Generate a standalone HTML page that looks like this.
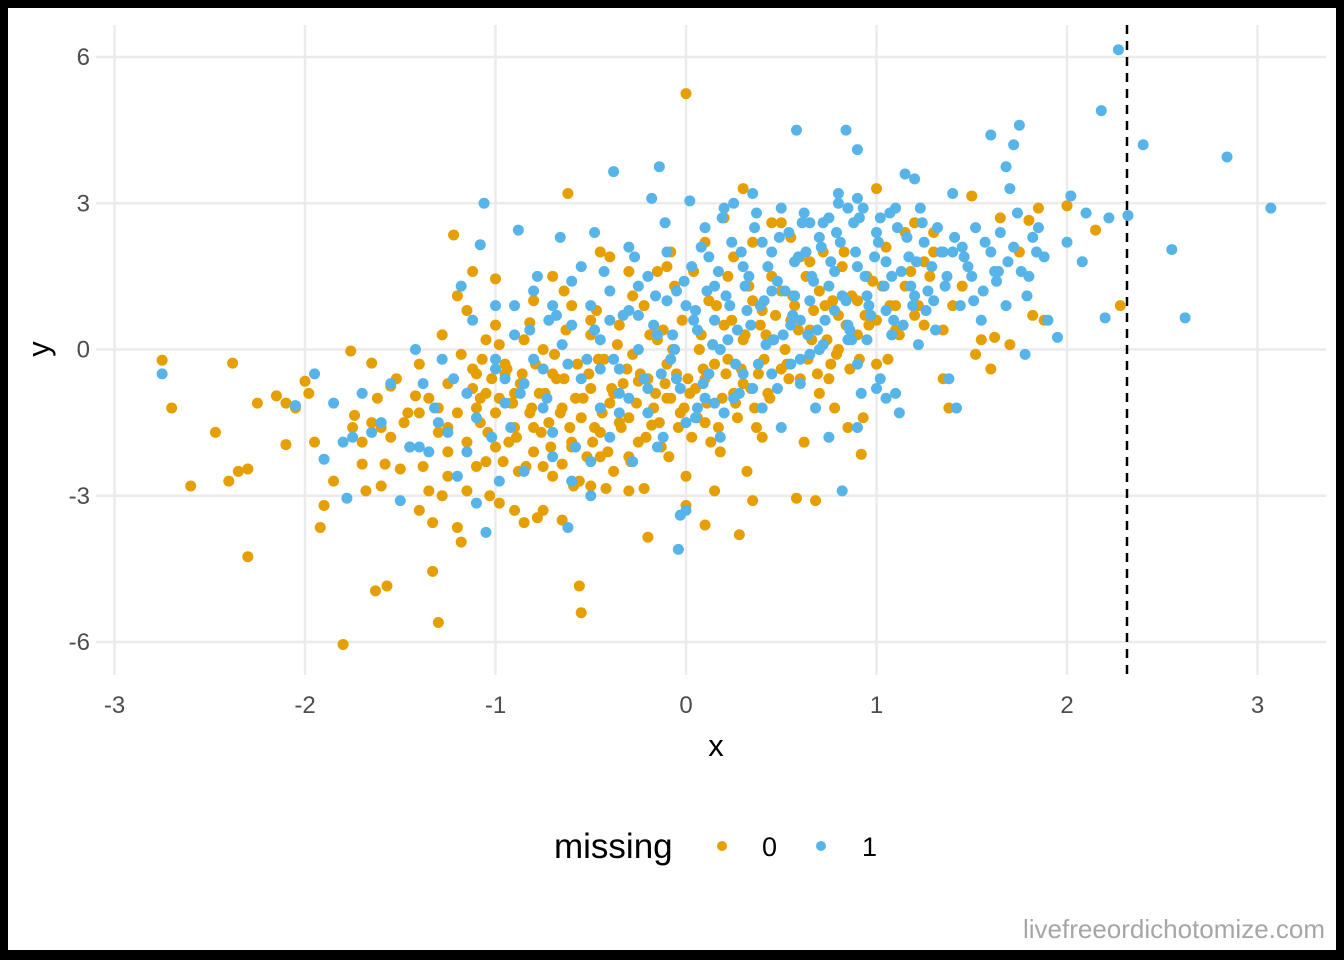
<!DOCTYPE html>
<html><head><meta charset="utf-8">
<style>
html,body{margin:0;padding:0;background:#000;}
svg{display:block;font-family:"Liberation Sans",Arial,sans-serif;}
</style></head>
<body>
<svg id="chart" width="1344" height="960" viewBox="0 0 1344 960">
<rect x="8" y="8" width="1328" height="942" fill="#fff"/>
<g id="grid"></g>
<g id="ticks"></g>
<line id="cutoff" stroke="#000" stroke-width="2.5" stroke-dasharray="9,7"/>
<g id="pts"></g>
<text x="716" y="756" font-size="31" text-anchor="middle" fill="#000">x</text>
<text x="49" y="349" font-size="31" text-anchor="middle" fill="#000" transform="rotate(-90 49 349)">y</text>
<g>
<text x="554" y="858" font-size="35" fill="#000">missing</text>
<circle cx="722" cy="846" r="5" fill="#E69F00"/>
<text x="762" y="856" font-size="27" fill="#000">0</text>
<circle cx="821" cy="846" r="5" fill="#56B4E9"/>
<text x="862" y="856" font-size="27" fill="#000">1</text>
</g>
<text x="1325" y="938" font-size="26" text-anchor="end" fill="#a6a6a6">livefreeordichotomize.com</text>
</svg>
<script>
const xTicks=[-3,-2,-1,0,1,2,3];
const yTicks=[-6,-3,0,3,6];
const xTickLabels=["-3","-2","-1","0","1","2","3"];
const yTickLabels=["-6","-3","0","3","6"];
const cutoffX=[2.315];
const orangeX=[-2.75,-2.7,-2.6,-2.47,-2.4,-2.38,-2.35,-2.3,-2.3,-2.25,-2.15,-2.1,-2.1,-2.05,-2.0,-1.98,-1.95,-1.92,-1.9,-1.85,-1.8,-1.76,-1.74,-1.7,-1.68,-1.65,-1.63,-1.6,-1.58,-1.57,-1.55,-1.5,-1.46,-1.42,-1.4,-1.38,-1.35,-1.33,-1.33,-1.3,-1.3,-1.28,-1.25,-1.25,-1.22,-1.2,-1.18,-1.15,-1.12,-1.1,-1.08,-1.05,-1.03,-1.0,-0.98,-0.95,-0.93,-0.9,-0.88,-0.85,-0.82,-0.8,-0.78,-0.75,-0.7,-0.65,-0.62,-0.6,-0.58,-0.56,-0.56,-0.55,-0.5,-0.48,-0.45,-0.42,-0.4,-0.38,-0.35,-0.3,-0.28,-0.25,-0.22,-0.2,-0.18,-0.15,-0.12,-0.1,-0.08,-0.05,-0.03,0,0,0.05,0.07,0.1,0.1,0.12,0.15,0.18,0.2,0.22,0.25,0.28,0.3,0.3,0.32,0.35,0.38,0.4,0.42,0.45,0.5,0.5,0.55,0.58,0.6,0.62,0.65,0.68,0.7,0.72,0.75,0.78,0.8,0.82,0.85,0.9,0.92,0.95,1.0,1.0,1.05,1.1,1.15,1.2,1.25,1.3,1.35,1.38,1.4,1.45,1.5,1.52,1.55,1.6,1.62,1.65,1.7,1.75,1.8,1.82,1.85,1.88,2.0,2.15,2.28,
-1.1,-1.05,-1.0,-0.95,-0.92,-0.9,-0.87,-0.85,-0.82,-0.8,-0.77,-0.75,-0.72,-0.7,-0.68,-0.65,-0.63,-0.6,-0.57,-0.55,-0.52,-0.5,-0.47,-0.45,-0.43,-0.4,-0.38,-0.35,-0.33,-0.3,-0.28,-0.25,-0.22,-0.2,-0.17,-0.15,-0.13,-0.1,-0.08,-0.06,-0.04,-0.02,0.02,0.04,0.06,0.08,0.1,0.13,0.16,0.19,0.22,0.25,0.27,0.3,0.33,0.36,0.4,0.43,0.46,0.5,0.53,0.57,0.6,0.63,0.66,0.7,0.73,0.76,0.8,0.83,0.86,0.9,0.93,0.96,1.0,1.03,1.06,1.1,1.15,1.2,1.25,1.3,1.35,-1.35,-1.3,-1.25,-1.2,-1.15,-1.12,-1.08,-1.2,-1.15,-1.05,-1.0,-0.7,-0.6,-0.45,-0.3,-0.1,0.1,0.2,0.35,0.45,0.55,0.65,-1.6,-1.45,-1.4,-1.55,-1.75,-1.7,-1.65,-0.65,-0.5,-0.3,0.0,0.15,0.35,-0.9,-0.75,-1.0,-1.25,
-1.12,-1.1,-1.07,-1.04,-1.02,-0.98,-0.96,-0.94,-0.91,-0.89,-0.86,-0.84,-0.81,-0.79,-0.76,-0.74,-0.71,-0.69,-0.66,-0.64,-0.61,-0.59,-0.54,-0.51,-0.49,-0.46,-0.44,-0.41,-0.39,-0.36,-0.34,-0.31,-0.29,-0.26,-0.24,-0.21,-0.19,-0.16,-0.14,-0.11,-0.09,-0.07,-0.01,0.01,0.03,0.09,0.11,0.14,0.17,0.21,0.24,0.26,0.29,0.31,0.34,0.37,0.39,0.41,0.44,0.47,0.52,0.54,0.56,0.59,0.64,0.67,0.69,0.74,0.77,0.79,0.84,0.87,0.91,0.94,0.98,1.07,1.12,1.18,1.22,1.28,-1.4,-1.48,-1.52,-1.62,-1.28,-1.18,-0.98,-0.8,-0.64,-0.5];
const orangeY=[-0.22,-1.2,-2.8,-1.7,-2.7,-0.28,-2.5,-2.45,-4.25,-1.1,-0.95,-1.1,-1.95,-1.2,-0.65,-0.9,-1.9,-3.65,-3.2,-2.7,-6.05,-0.03,-1.35,-2.35,-2.9,-0.28,-4.95,-2.8,-2.35,-4.85,-0.75,-2.45,-1.3,-0.95,-3.3,-2.4,-2.9,-3.55,-4.55,-5.6,-1.2,-3.0,-2.1,-1.6,2.35,-3.65,-3.95,-2.9,1.6,-2.4,-1.0,-2.3,-3.0,1.45,-3.15,-0.5,-1.9,-0.9,-2.5,-3.55,0.55,-1.6,-3.45,-3.3,-0.5,-2.35,3.2,-2.0,-1.0,-2.7,-4.85,-5.4,0.3,-1.6,-2.2,-2.85,1.9,-0.9,-1.5,-2.2,1.1,-0.65,-2.85,-3.85,-1.55,1.6,0.4,-1.0,2.0,-0.5,-1.3,5.25,-3.2,-0.8,0.0,-1.5,-3.6,1.0,-0.3,-2.1,0.5,1.5,-0.9,-3.8,3.3,0.2,-2.5,1.0,-0.5,-1.8,0.3,1.5,2.6,-0.4,0.6,-3.05,1.9,-1.9,0.4,-3.1,1.2,2.0,-0.6,-1.2,0.7,1.7,-1.6,0.3,-2.15,1.5,3.3,0.6,2.1,0.9,1.3,2.6,0.5,2.0,-0.6,-1.2,0.9,1.3,3.15,-0.1,0.2,-0.4,0.25,2.7,0.1,2.0,2.65,0.7,2.9,0.6,2.95,2.45,0.9,
-0.5,-0.9,-1.3,-0.3,-1.1,-1.6,-0.7,0.2,-1.3,-2.1,-0.9,0.0,-1.5,-2.6,-0.6,-1.2,0.4,-1.9,-0.3,-1.4,-2.2,-0.8,0.8,-1.7,-0.2,-1.1,-2.5,0.5,-0.7,-1.4,-0.1,-1.9,0.9,-0.6,-1.2,0.2,-2.0,-0.3,-1.0,1.3,-1.6,0.6,-0.9,1.6,-1.4,0.3,-0.6,-1.9,0.9,-1.0,-0.2,1.9,-1.4,-0.7,1.3,-1.2,0.8,-0.9,0.2,1.2,-0.3,0.9,-0.6,1.5,0.2,-0.9,0.9,-0.3,0.0,2.0,-0.4,1.0,-1.4,0.5,-0.3,1.3,-0.2,0.4,2.4,0.7,1.8,2.4,0.4,-1.0,-1.7,-0.7,-1.3,-1.9,-0.4,-1.5,1.1,0.8,0.2,0.5,1.5,0.9,2.0,1.6,1.7,2.2,2.7,2.2,2.6,2.3,1.8,-1.6,-2.0,-1.3,-1.8,-1.6,-1.9,-1.5,-3.5,-2.8,-2.9,-2.6,-2.9,-3.1,-3.3,-2.4,-2.0,-2.6,
-0.8,-1.2,-0.2,-1.7,-0.6,-1.0,-2.3,-0.4,-1.1,-1.8,-0.5,-2.4,-1.2,-0.3,-1.7,-0.9,-2.0,-0.1,-1.3,-0.6,-1.6,-2.8,-1.0,-0.5,-1.9,-0.2,-1.3,-2.1,-0.8,0.1,-1.6,-0.4,-2.3,-1.1,-0.5,-1.8,0.3,-0.9,-1.5,-0.7,-2.2,0.0,-1.2,-0.6,-1.8,-0.4,-1.1,0.1,-1.6,-0.5,0.6,-1.1,-0.4,0.3,-0.8,-1.6,0.5,-0.2,-1.0,0.7,0.0,-0.6,1.1,0.4,-0.2,0.8,-0.5,0.2,1.0,-0.1,0.5,1.1,-0.2,0.7,1.4,0.9,0.3,1.6,0.9,1.5,-0.3,-1.5,-0.6,-1.0,0.3,-0.1,0.1,1.0,1.2,0.6];
const blueX=[-2.75,-2.05,-1.95,-1.9,-1.85,-1.8,-1.78,-1.75,-1.7,-1.65,-1.6,-1.55,-1.5,-1.42,-1.4,-1.38,-1.35,-1.3,-1.28,-1.22,-1.2,-1.18,-1.15,-1.12,-1.1,-1.08,-1.06,-1.05,-1.02,-1.0,-0.98,-0.95,-0.9,-0.88,-0.85,-0.8,-0.78,-0.75,-0.72,-0.7,-0.66,-0.62,-0.6,-0.58,-0.55,-0.52,-0.5,-0.48,-0.45,-0.4,-0.38,-0.35,-0.3,-0.28,-0.25,-0.2,-0.18,-0.15,-0.14,-0.12,-0.1,-0.08,-0.05,-0.03,-0.04,0.0,0.02,0.04,0.06,0.1,0.12,0.15,0.18,0.2,0.22,0.25,0.28,0.3,0.32,0.35,0.38,0.4,0.45,0.48,0.5,0.55,0.57,0.58,0.6,0.62,0.65,0.68,0.7,0.72,0.75,0.78,0.8,0.82,0.84,0.85,0.88,0.9,0.92,0.95,1.0,1.02,1.05,1.08,1.1,1.12,1.15,1.18,1.2,1.22,1.25,1.3,1.35,1.38,1.4,1.42,1.45,1.5,1.55,1.6,1.62,1.65,1.68,1.7,1.72,1.75,1.78,1.8,1.85,1.9,1.95,2.0,2.02,2.08,2.1,2.18,2.2,2.22,2.27,2.32,2.4,2.55,2.62,2.84,3.07,
-0.5,-0.45,-0.4,-0.35,-0.3,-0.25,-0.2,-0.17,-0.13,-0.1,-0.07,-0.03,0.0,0.03,0.06,0.09,0.12,0.15,0.18,0.21,0.24,0.27,0.3,0.33,0.36,0.39,0.42,0.45,0.48,0.51,0.54,0.57,0.6,0.63,0.66,0.69,0.72,0.75,0.78,0.81,0.84,0.87,0.9,0.93,0.96,0.99,1.02,1.05,1.08,1.11,1.14,1.17,1.2,1.23,1.26,1.29,1.32,1.36,1.4,1.44,1.48,1.52,1.56,1.6,1.64,1.68,1.72,1.76,1.82,1.88,0.8,0.85,0.75,0.65,0.9,-0.6,-0.7,-0.8,-0.65,-0.55,-0.75,-0.85,-0.95,-1.0,-1.1,-0.9,0.0,0.1,0.2,0.4,0.6,0.5,-0.2,-0.4,-0.5,-0.3,-0.6,-0.7,-0.45,1.0,0.9,1.05,0.95,
-0.48,-0.43,-0.38,-0.33,-0.27,-0.22,-0.16,-0.11,-0.06,-0.01,0.05,0.08,0.11,0.14,0.17,0.19,0.23,0.26,0.29,0.31,0.34,0.37,0.41,0.43,0.46,0.49,0.52,0.56,0.59,0.61,0.64,0.67,0.71,0.73,0.76,0.79,0.82,0.86,0.89,0.91,0.94,0.97,1.01,1.04,1.07,1.09,1.13,1.16,1.19,1.21,1.24,1.27,1.31,1.34,1.37,1.41,1.46,1.51,1.57,1.63,1.69,1.74,1.79,1.84,-0.62,-0.68,-0.73,-0.82,-0.87,-0.92,-1.0,-1.15,-1.25,-1.32,-1.45,-0.35,-0.15,0.05,0.25,0.45,0.65,0.85,0.7,0.55,0.35,0.15,-0.05,-0.25,0.9,1.1];
const blueY=[-0.5,-1.15,-0.5,-2.25,-1.1,-1.9,-3.05,-1.8,-0.9,-1.7,-1.5,-0.7,-3.1,0.0,-2.0,-0.7,-2.1,-1.5,-0.2,-0.6,-2.6,1.3,-2.1,0.6,-3.15,2.15,3.0,-3.75,-1.8,0.9,-2.7,-0.6,0.9,2.45,-2.5,-0.2,1.5,-1.2,0.6,-1.7,2.3,-3.65,0.5,-2.0,1.7,-0.2,-3.0,2.4,-1.2,0.6,3.65,-0.4,2.1,-2.3,1.3,-0.8,3.1,0.3,3.75,-1.8,2.0,-0.2,1.2,-3.4,-4.1,-3.3,3.05,0.6,-1.2,2.5,-0.5,1.3,-1.8,2.9,0.2,3.0,-0.9,1.7,0.8,3.2,-0.3,2.2,1.2,-0.8,2.9,0.5,1.8,4.5,-0.2,2.8,1.0,-1.2,2.3,0.1,-1.8,1.6,3.2,-2.9,4.5,0.5,2.6,4.1,-0.9,1.1,2.4,-0.6,1.8,0.3,2.9,-1.3,3.6,1.3,3.5,0.1,2.2,1.0,2.0,-0.6,3.2,-1.2,2.1,1.5,0.6,4.4,1.6,2.4,3.75,3.3,4.2,4.6,-0.1,1.5,2.5,0.6,0.25,2.2,3.15,1.8,2.8,4.9,0.65,2.7,6.15,2.75,4.2,2.05,0.65,3.95,2.9,
0.9,0.2,1.2,-0.9,0.8,0.0,1.5,0.5,-0.5,1.0,0.3,-0.8,0.9,1.7,0.4,-0.7,1.9,0.6,0.0,1.1,2.2,0.4,-0.5,1.5,2.5,0.9,0.1,2.0,1.4,0.3,2.4,1.1,0.6,2.0,1.5,0.4,2.6,1.3,0.8,2.2,1.0,0.2,1.7,2.9,0.9,1.9,2.7,0.8,1.5,2.5,0.5,1.9,1.1,2.9,0.8,1.7,2.5,1.3,2.0,0.9,1.7,2.5,1.2,2.0,1.6,0.9,2.1,1.6,2.3,1.9,3.0,2.9,2.7,2.6,3.1,1.4,0.9,1.2,0.1,-0.6,-0.4,-0.7,-1.1,-0.4,-1.4,0.3,-1.5,-1.0,-1.3,-1.2,-0.7,-1.6,-1.3,-1.8,-2.3,-1.0,-2.7,-2.2,-0.4,-0.8,-0.3,-1.0,0.2,
0.4,1.6,-0.2,0.7,1.9,-0.6,1.1,2.6,0.0,1.4,0.8,2.1,1.2,0.1,1.6,2.7,0.9,-0.3,2.0,1.3,0.5,2.8,1.0,1.7,0.2,2.3,1.2,0.7,1.9,2.6,0.3,1.4,2.1,0.6,1.8,2.4,1.1,0.4,2.0,2.7,1.5,0.7,2.2,1.3,2.8,0.6,1.6,2.3,0.9,1.8,2.6,1.2,0.4,2.0,1.5,2.3,1.9,1.0,2.2,1.4,1.8,2.8,1.1,2.0,-0.3,0.7,-1.0,0.4,-0.9,-1.6,-0.2,-0.9,-1.7,-1.2,-2.0,-1.3,-2.0,-1.4,-1.0,-0.5,-0.1,0.2,0.0,-0.3,-0.8,-1.1,-0.6,0.7,-1.6,-0.9,-0.4,1.6];

const NS='http://www.w3.org/2000/svg';
const px=v=>686+v*190.5;
const py=v=>349.5-v*48.75;
const grid=document.getElementById('grid');
const ticks=document.getElementById('ticks');
xTicks.forEach((t,i)=>{
  const l=document.createElementNS(NS,'line');
  l.setAttribute('x1',px(t));l.setAttribute('x2',px(t));
  l.setAttribute('y1',25);l.setAttribute('y2',675);
  l.setAttribute('stroke','#ebebeb');l.setAttribute('stroke-width','2.5');
  
  
  grid.appendChild(l);
  const tx=document.createElementNS(NS,'text');
  tx.setAttribute('x',px(t));tx.setAttribute('y',713);
  tx.setAttribute('font-size','24');tx.setAttribute('fill','#4d4d4d');tx.setAttribute('text-anchor','middle');
  tx.textContent=xTickLabels[i];
  
  
  ticks.appendChild(tx);
});
yTicks.forEach((t,i)=>{
  const l=document.createElementNS(NS,'line');
  l.setAttribute('x1',96);l.setAttribute('x2',1326);
  l.setAttribute('y1',py(t));l.setAttribute('y2',py(t));
  l.setAttribute('stroke','#ebebeb');l.setAttribute('stroke-width','2.5');
  
  
  grid.appendChild(l);
  const tx=document.createElementNS(NS,'text');
  tx.setAttribute('x',90);tx.setAttribute('y',py(t)+8);
  tx.setAttribute('font-size','24');tx.setAttribute('fill','#4d4d4d');tx.setAttribute('text-anchor','end');
  tx.textContent=yTickLabels[i];
  
  
  ticks.appendChild(tx);
});
const cl=document.getElementById('cutoff');
cl.setAttribute('x1',px(cutoffX[0]));cl.setAttribute('x2',px(cutoffX[0]));
cl.setAttribute('y1',25);cl.setAttribute('y2',675);
const pts=document.getElementById('pts');
function draw(xs,ys,color,name){
  xs.forEach((x,i)=>{
    const c=document.createElementNS(NS,'circle');
    c.setAttribute('cx',px(x));c.setAttribute('cy',py(ys[i]));
    c.setAttribute('r','5.5');c.setAttribute('fill',color);
    
    
    pts.appendChild(c);
  });
}
draw(orangeX,orangeY,'#E69F00','point-missing-0');
draw(blueX,blueY,'#56B4E9','point-missing-1');
</script>
</body></html>
